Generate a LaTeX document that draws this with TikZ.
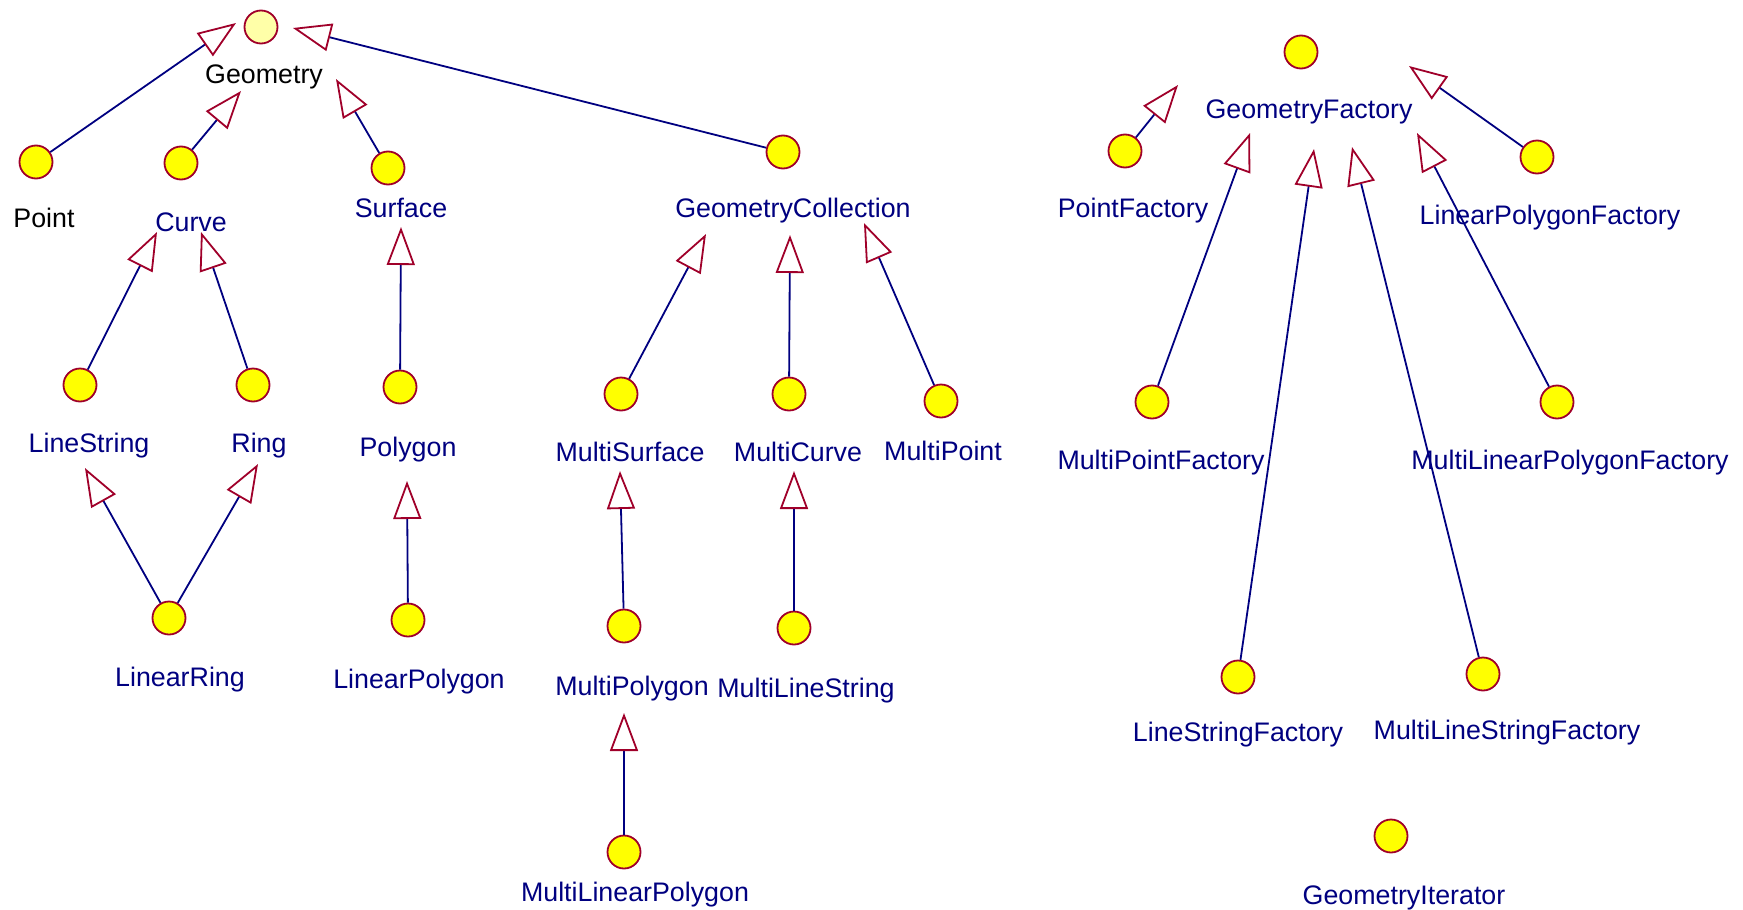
\documentclass[tikz,border=0pt]{standalone}
\usepackage{fontspec}
\setmainfont{Liberation Sans}
\usetikzlibrary{arrows.meta}
\definecolor{umlnavy}{HTML}{000080}
\definecolor{umlred}{HTML}{A0002A}
\definecolor{umlyellow}{HTML}{FFFF00}
\definecolor{umlpale}{HTML}{FFFFA8}

\begin{document}
\begin{tikzpicture}[x=1pt,y=-1pt,
  cls/.style={circle, draw=umlred, fill=umlyellow, line width=1.8pt,
              minimum size=33pt, inner sep=0pt},
  lbl/.style={anchor=base, text=umlnavy, inner sep=0pt,
              font=\fontsize{26.8}{31}\selectfont},
  gen/.style={draw=umlnavy, line width=1.8pt,
              -{Triangle[length=38pt, width=28pt, color=umlred, fill=white]}},
]
\useasboundingbox (0,0) rectangle (1743,910);

% ---- geometry hierarchy: classes ----
\node[cls, fill=umlpale] (geometry) at (261,27) {};
\node[cls] (point)   at (36,162)  {};
\node[cls] (curve)   at (181,163) {};
\node[cls] (surface) at (388,168) {};
\node[cls] (gcoll)   at (783,152) {};
\node[cls] (linestring) at (80,385)  {};
\node[cls] (ring)       at (253,385) {};
\node[cls] (polygon)    at (400,387) {};
\node[cls] (linearring)    at (169,618) {};
\node[cls] (linearpolygon) at (408,620) {};
\node[cls] (msurface) at (621,394) {};
\node[cls] (mcurve)   at (789,394) {};
\node[cls] (mpoint)   at (941,401) {};
\node[cls] (mpolygon) at (624,626) {};
\node[cls] (mlinestring) at (794,628) {};
\node[cls] (mlinpolygon) at (624,852) {};

% ---- factory classes ----
\node[cls] (gfactory)   at (1301,52)  {};
\node[cls] (pfactory)   at (1125,151) {};
\node[cls] (lpfactory)  at (1537,157) {};
\node[cls] (mpfactory)  at (1152,402) {};
\node[cls] (mlpfactory) at (1557,402) {};
\node[cls] (lsfactory)  at (1238,677) {};
\node[cls] (mlsfactory) at (1483,674) {};
\node[cls] (giterator)  at (1391,836) {};

% ---- class names ----
\node[lbl, text=black] (geometry-l) at (264,83)  {Geometry};
\node[lbl, text=black] (point-l)    at (44,227)  {Point};
\node[lbl] (curve-l)    at (191,231) {Curve};
\node[lbl] (surface-l)  at (401,217) {Surface};
\node[lbl] (gcoll-l)    at (793,217) {GeometryCollection};
\node[lbl] (linestring-l) at (89,452)  {LineString};
\node[lbl] (ring-l)       at (259,452) {Ring};
\node[lbl] (polygon-l)    at (408,456) {Polygon};
\node[lbl] (linearring-l)    at (180,686) {LinearRing};
\node[lbl] (linearpolygon-l) at (419,688) {LinearPolygon};
\node[lbl] (msurface-l) at (630,461) {MultiSurface};
\node[lbl] (mcurve-l)   at (798,461) {MultiCurve};
\node[lbl] (mpoint-l)   at (943,460) {MultiPoint};
\node[lbl] (mpolygon-l)    at (632,695) {MultiPolygon};
\node[lbl] (mlinestring-l) at (806,697) {MultiLineString};
\node[lbl] (mlinpolygon-l) at (635,901) {MultiLinearPolygon};
\node[lbl] (gfactory-l)   at (1309,118) {GeometryFactory};
\node[lbl] (pfactory-l)   at (1133,217) {PointFactory};
\node[lbl] (lpfactory-l)  at (1550,224) {LinearPolygonFactory};
\node[lbl] (mpfactory-l)  at (1161,469) {MultiPointFactory};
\node[lbl] (mlpfactory-l) at (1570,469) {MultiLinearPolygonFactory};
\node[lbl] (lsfactory-l)  at (1238,741) {LineStringFactory};
\node[lbl] (mlsfactory-l) at (1507,739) {MultiLineStringFactory};
\node[lbl] (giterator-l)  at (1404,904) {GeometryIterator};

% ---- generalization arrow tips ----
\coordinate (t-point)   at (236,23);
\coordinate (t-curve)   at (241,91);
\coordinate (t-surface) at (336,79);
\coordinate (t-gcoll)   at (293,28);
\coordinate (t-linestring) at (157,232);
\coordinate (t-ring)       at (201,232);
\coordinate (t-polygon)    at (401,227);
\coordinate (t-lr-ls)      at (85,468);
\coordinate (t-lr-ring)    at (258,464);
\coordinate (t-linpolygon) at (407,481);
\coordinate (t-msurface) at (706,234);
\coordinate (t-mcurve)   at (790,235);
\coordinate (t-mpoint)   at (864,223);
\coordinate (t-mpolygon)    at (620,471);
\coordinate (t-mlinestring) at (794,471);
\coordinate (t-mlinpolygon) at (624,713);
\coordinate (t-pfactory)   at (1178,85);
\coordinate (t-mpfactory)  at (1250,133);
\coordinate (t-lsfactory)  at (1314,149);
\coordinate (t-mlsfactory) at (1352,147);
\coordinate (t-lpfactory)  at (1409,66);
\coordinate (t-mlpfactory) at (1417,133);

% ---- generalizations ----
\draw[gen] (point)   -- (t-point);
\draw[gen] (curve)   -- (t-curve);
\draw[gen] (surface) -- (t-surface);
\draw[gen] (gcoll)   -- (t-gcoll);
\draw[gen] (linestring) -- (t-linestring);
\draw[gen] (ring)       -- (t-ring);
\draw[gen] (polygon)    -- (t-polygon);
\draw[gen] (linearring) -- (t-lr-ls);
\draw[gen] (linearring) -- (t-lr-ring);
\draw[gen] (linearpolygon) -- (t-linpolygon);
\draw[gen] (msurface) -- (t-msurface);
\draw[gen] (mcurve)   -- (t-mcurve);
\draw[gen] (mpoint)   -- (t-mpoint);
\draw[gen] (mpolygon)    -- (t-mpolygon);
\draw[gen] (mlinestring) -- (t-mlinestring);
\draw[gen] (mlinpolygon) -- (t-mlinpolygon);
\draw[gen] (pfactory)   -- (t-pfactory);
\draw[gen] (mpfactory)  -- (t-mpfactory);
\draw[gen] (lsfactory)  -- (t-lsfactory);
\draw[gen] (mlsfactory) -- (t-mlsfactory);
\draw[gen] (lpfactory)  -- (t-lpfactory);
\draw[gen] (mlpfactory) -- (t-mlpfactory);
\end{tikzpicture}
\end{document}
